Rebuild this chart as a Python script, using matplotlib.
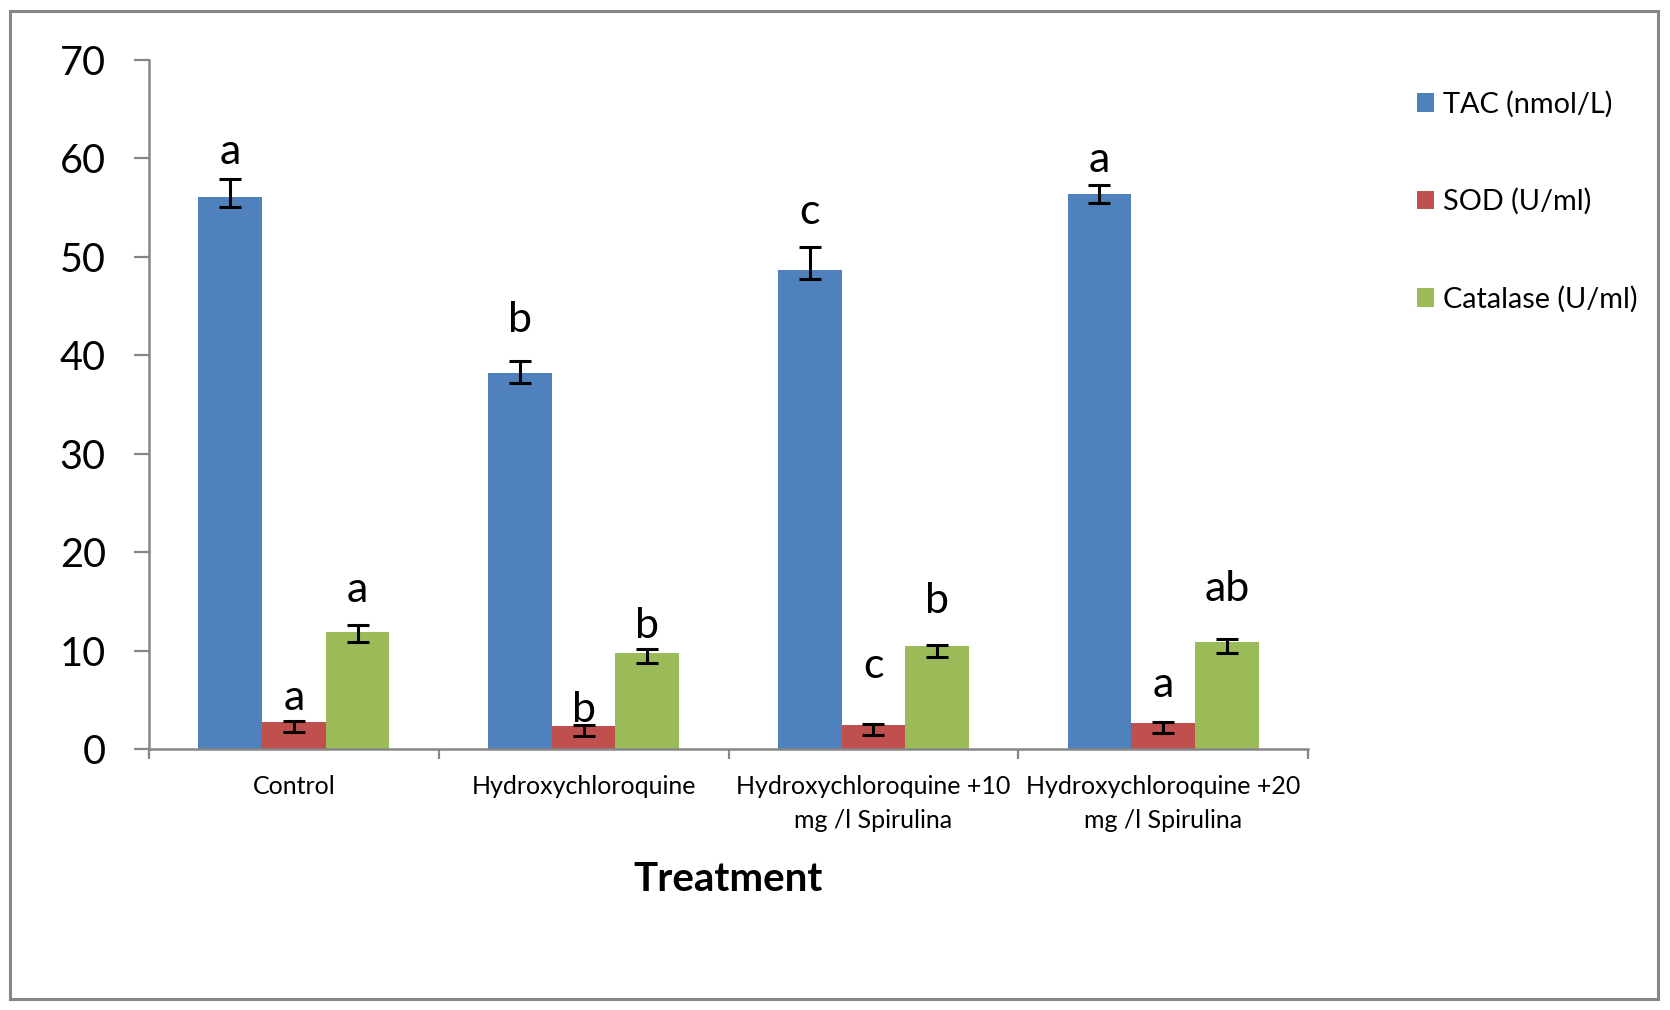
import matplotlib
matplotlib.use("Agg")
import matplotlib.pyplot as plt
import numpy as np
from matplotlib.patches import Rectangle

plt.rcParams['font.family'] = ['Lato', 'DejaVu Sans']

categories = ["Control", "Hydroxychloroquine",
              "Hydroxychloroquine +10\nmg /l Spirulina",
              "Hydroxychloroquine +20\nmg /l Spirulina"]
series_names = ["TAC (nmol/L)", "SOD (U/ml)", "Catalase (U/ml)"]

tac = [56.1, 38.2, 48.7, 56.35]
tac_err_low = [1.0, 1.0, 1.0, 0.9]
tac_err_up = [1.8, 1.2, 2.3, 1.0]

sod = [2.7, 2.3, 2.4, 2.6]
sod_err_low = [0.95, 0.95, 0.95, 0.95]
sod_err_up = [0.12, 0.12, 0.12, 0.12]

cat = [11.85, 9.72, 10.43, 10.87]
cat_err_low = [1.0, 1.0, 1.1, 1.1]
cat_err_up = [0.75, 0.4, 0.15, 0.35]

tac_letters = ["a", "b", "c", "a"]
sod_letters = ["a", "b", "c", "a"]
cat_letters = ["a", "b", "b", "ab"]
tac_letter_y = [59.4, 42.4, 53.3, 58.6]
sod_letter_y = [3.96, 2.7, 7.2, 5.3]
cat_letter_y = [14.9, 11.3, 13.8, 15.0]

yticks = [0, 10, 20, 30, 40, 50, 60, 70]

colors = ["#4F81BD", "#C0504D", "#9BBB59"]
axis_grey = "#868686"

W, H = 1670, 1010
fig = plt.figure(figsize=(W / 100, H / 100), dpi=100)
ax = fig.add_axes([149 / W, 1 - 749 / H, (1308 - 149) / W, (749 - 60) / H])

x = np.arange(len(categories))
bw = 0.22
data = [(tac, tac_err_low, tac_err_up, tac_letters, tac_letter_y),
        (sod, sod_err_low, sod_err_up, sod_letters, sod_letter_y),
        (cat, cat_err_low, cat_err_up, cat_letters, cat_letter_y)]
handles = []
for i, (vals, lo, up, letters, ly) in enumerate(data):
    xpos = x + (i - 1) * bw
    b = ax.bar(xpos, vals, width=bw, color=colors[i], label=series_names[i], zorder=2)
    handles.append(b)
    ax.errorbar(xpos, vals, yerr=[lo, up], fmt='none', ecolor='black',
                elinewidth=2.2, capsize=8, capthick=2.2, zorder=3)
    for xp, l, yy in zip(xpos, letters, ly):
        ax.text(xp, yy, l, ha='center', va='baseline', fontsize=31, color='black', zorder=4)

ax.set_xlim(-0.5, len(categories) - 0.5)
ax.set_ylim(0, 70)
ax.set_yticks(yticks)
ax.tick_params(axis='y', labelsize=28.5, length=11, width=1.6, color=axis_grey, pad=20)

ax.set_xticks(x)
ax.set_xticklabels(categories, fontsize=18, linespacing=1.55)
ax.set_xticks(np.arange(len(categories) + 1) - 0.5, minor=True)
ax.tick_params(axis='x', which='major', length=0, pad=19)
ax.tick_params(axis='x', which='minor', length=7, width=1.6, color=axis_grey)

for s in ['top', 'right']:
    ax.spines[s].set_visible(False)
for s in ['left', 'bottom']:
    ax.spines[s].set_color(axis_grey)
    ax.spines[s].set_linewidth(1.8)

ax.set_xlabel("Treatment", fontsize=29, fontweight='bold', labelpad=21)

fig.legend(handles=handles, labels=series_names, loc='upper left',
           bbox_to_anchor=(1405 / W, 1 - 79 / H), frameon=False, fontsize=20.8,
           handlelength=0.62, handleheight=0.62, handletextpad=0.3, labelspacing=2.45,
           borderaxespad=0)

fig.patches.append(Rectangle((10 / W, 1 - 999 / H), (1658 - 10) / W, (999 - 11) / H,
                             transform=fig.transFigure, fill=False,
                             edgecolor=axis_grey, linewidth=2.2, zorder=0))

fig.savefig("out.png", dpi=100, facecolor="white")
